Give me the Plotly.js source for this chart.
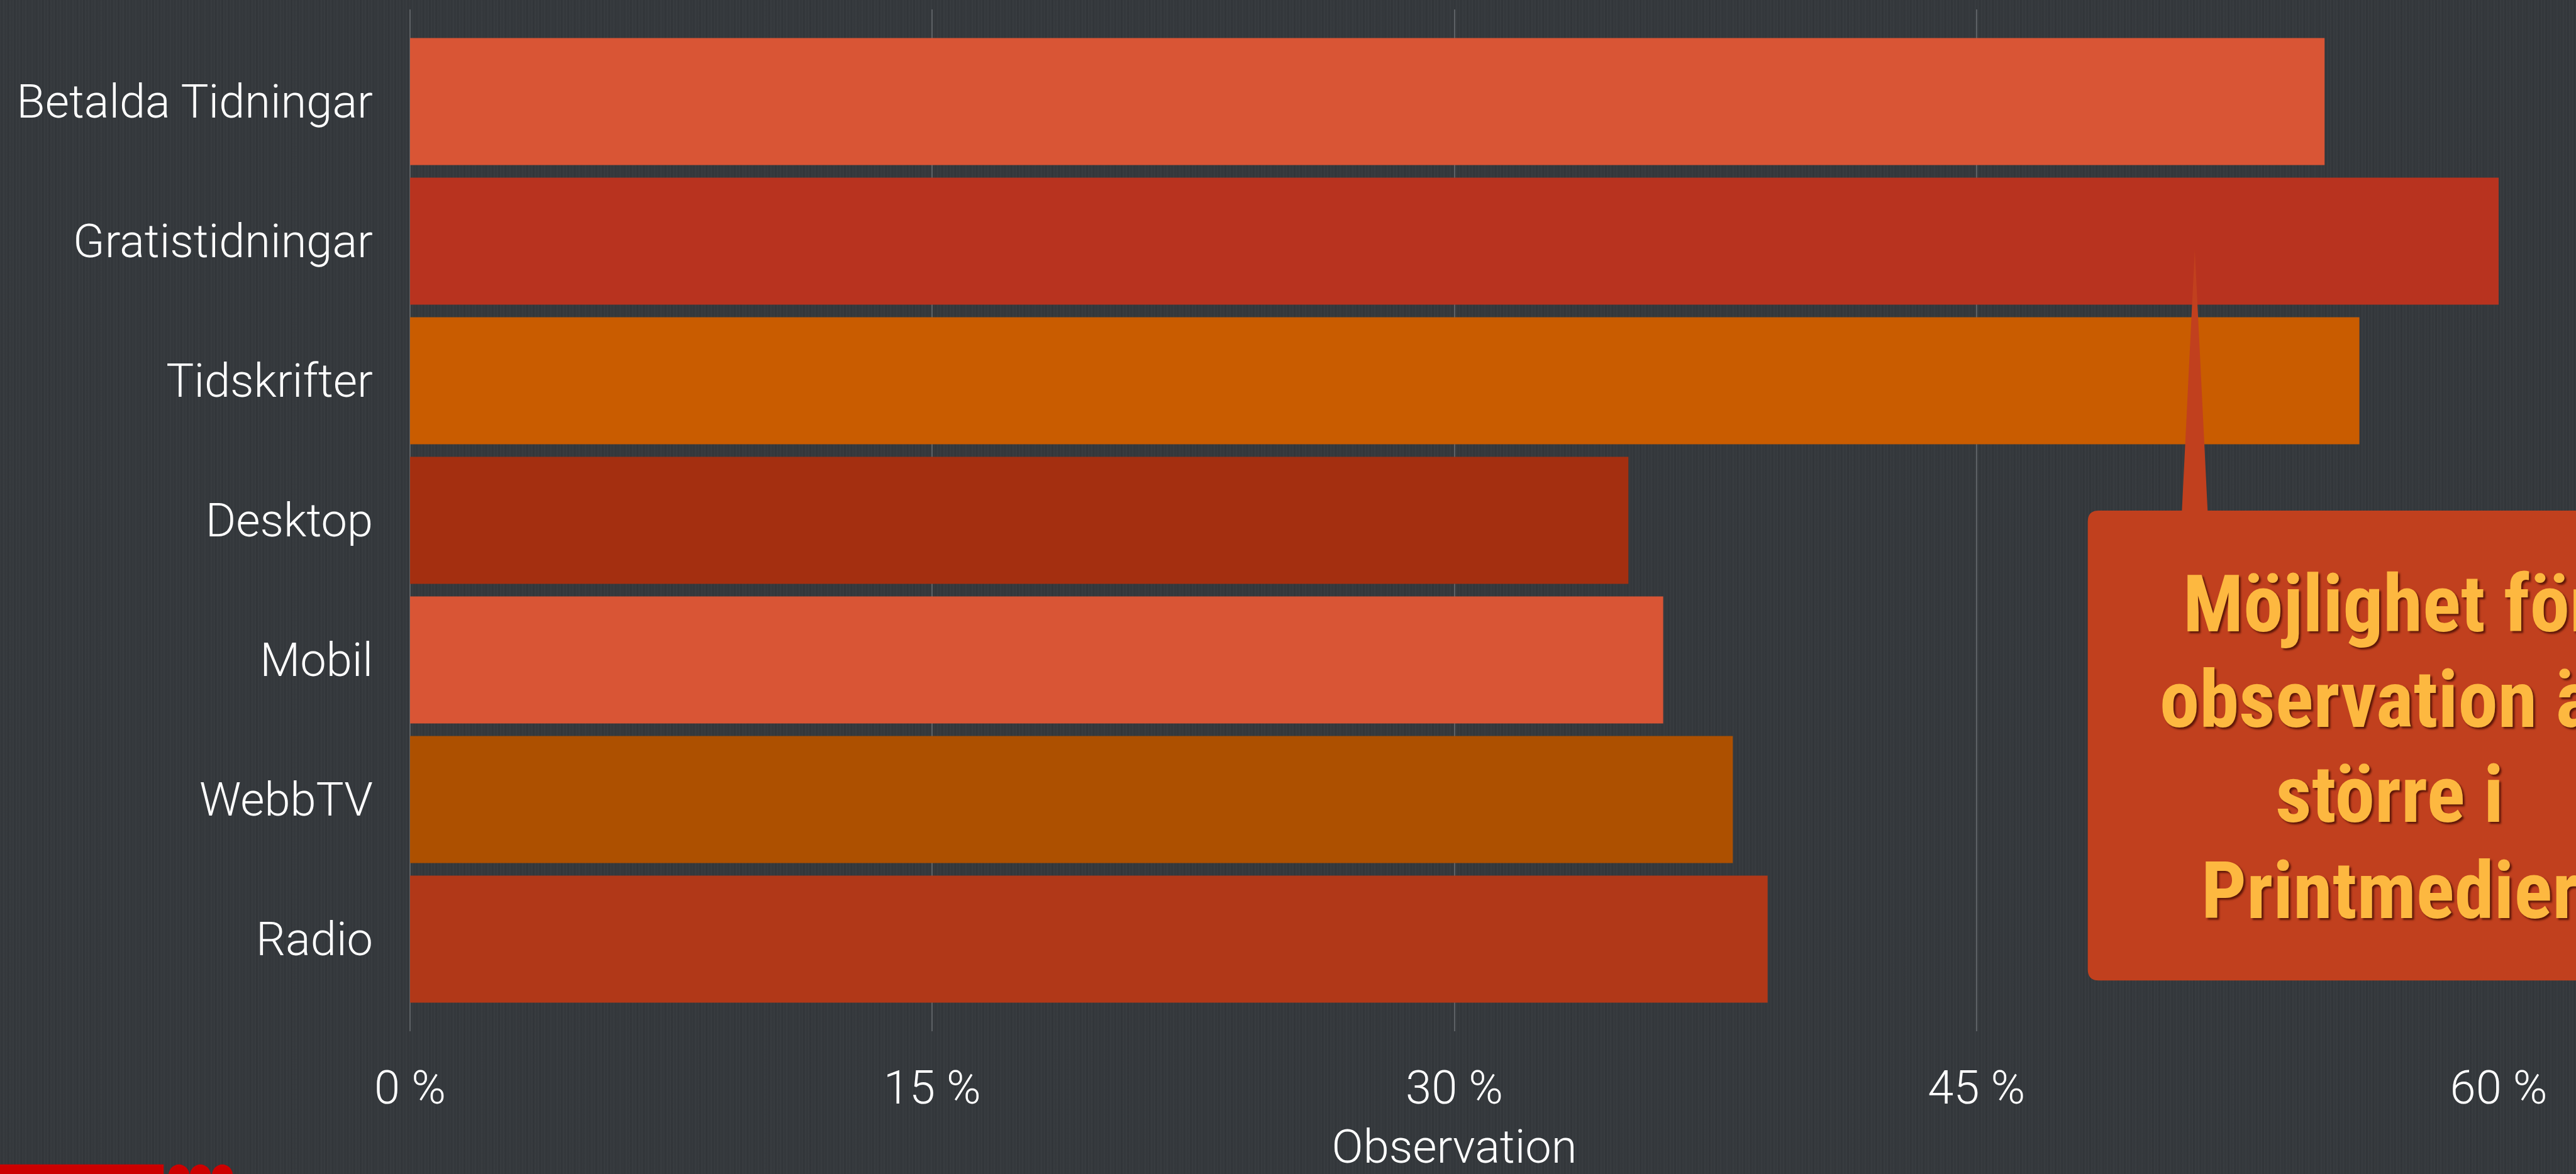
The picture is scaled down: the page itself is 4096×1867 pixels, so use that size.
<!DOCTYPE html>
<html>
<head>
<meta charset="utf-8">
<script src="https://cdn.plot.ly/plotly-3.0.1.min.js"></script>
<style>
  html, body { margin: 0; padding: 0; width: 4096px; height: 1867px; overflow: hidden;
    background-color: #34383c;
    background-image:
      repeating-linear-gradient(90deg, rgba(255,255,255,0.018) 0px, rgba(255,255,255,0.018) 2px, rgba(0,0,0,0) 2px, rgba(0,0,0,0) 5px),
      repeating-linear-gradient(90deg, rgba(0,0,0,0.035) 0px, rgba(0,0,0,0.035) 3px, rgba(0,0,0,0) 3px, rgba(0,0,0,0) 11px);
  }
  #chart { width: 4096px; height: 1867px; }
  .annotation-text { font-stretch: condensed; }
</style>
</head>
<body>
<div id="chart"></div>
<script>
// ---- data ----
const categories = ["Betalda Tidningar", "Gratistidningar", "Tidskrifter", "Desktop", "Mobil", "WebbTV", "Radio"];
const values = [55, 60, 56, 35, 36, 38, 39];
const tickValues = [0, 15, 30, 45, 60];
const tickLabels = ["0 %", "15 %", "30 %", "45 %", "60 %"];
const axisTitle = "Observation";
const calloutLines = ["Möjlighet för", "observation är", "större i", "Printmedier"];

// ---- styles ----
const barColors = ["#d95535", "#b8331f", "#c95c00", "#a42f10", "#d95535", "#ad5000", "#b13818"];
const S = 0.972;
const L = 671 * S, R = 4087 * S, T = 15 * S, B = 1687 * S;
const W = R - L, H = B - T;
function px(x) { return (x * S - L) / W; }
function py(y) { return (B - y * S) / H; }

// callout box path (reference pixel coords converted to paper)
const bx1 = 3415, bx2 = 4430, by1 = 835, by2 = 1604, rr = 18;
const calloutPath =
  "M" + px(bx1 + rr) + "," + py(by1) +
  " L" + px(3569) + "," + py(by1) +
  " L" + px(3590) + "," + py(408) +
  " L" + px(3611) + "," + py(by1) +
  " L" + px(bx2) + "," + py(by1) +
  " L" + px(bx2) + "," + py(by2) +
  " L" + px(bx1 + rr) + "," + py(by2) +
  " Q" + px(bx1) + "," + py(by2) + " " + px(bx1) + "," + py(by2 - rr) +
  " L" + px(bx1) + "," + py(by1 + rr) +
  " Q" + px(bx1) + "," + py(by1) + " " + px(bx1 + rr) + "," + py(by1) + " Z";

const lineCenters = [988, 1144, 1300, 1457];

const shapes = [
  { type: "path", xref: "paper", yref: "paper", path: calloutPath,
    fillcolor: "#c1401e", line: { width: 0 }, layer: "above" },
  // logo fragment bottom-left
  { type: "rect", xref: "paper", yref: "paper", x0: px(-10), x1: px(268), y0: py(1905), y1: py(1940),
    fillcolor: "#cc0000", line: { width: 0 }, layer: "above" },
  { type: "circle", xref: "paper", yref: "paper", x0: px(276), x1: px(310), y0: py(1905), y1: py(1940),
    fillcolor: "#cc0000", line: { width: 0 }, layer: "above" },
  { type: "circle", xref: "paper", yref: "paper", x0: px(311), x1: px(345), y0: py(1905), y1: py(1940),
    fillcolor: "#cc0000", line: { width: 0 }, layer: "above" },
  { type: "circle", xref: "paper", yref: "paper", x0: px(347), x1: px(381), y0: py(1905), y1: py(1940),
    fillcolor: "#cc0000", line: { width: 0 }, layer: "above" }
];

const annotations = calloutLines.map((t, i) => ({
  xref: "paper", yref: "paper", x: px(3909), y: py(lineCenters[i]),
  xanchor: "center", yanchor: "middle", showarrow: false, text: t,
  font: { family: "Roboto Condensed, Noto Sans, sans-serif",
          size: 127, weight: 700, color: "#fdb840", shadow: "3px 3px 3px rgba(60,10,0,0.75)" }
}));

const tickFont = { family: "Roboto, Lato, sans-serif", weight: 300, size: 74, color: "#ffffff" };

const trace = {
  type: "bar", orientation: "h",
  y: categories, x: values,
  marker: { color: barColors, line: { width: 0 } },
  hoverinfo: "none"
};

const layout = {
  width: 4096, height: 1867,
  margin: { l: L, r: 4096 - R, t: T, b: 1867 - B, pad: 0 },
  paper_bgcolor: "rgba(0,0,0,0)",
  plot_bgcolor: "rgba(0,0,0,0)",
  bargap: 0.09,
  showlegend: false,
  xaxis: {
    range: [0, 60], tickvals: tickValues, ticktext: tickLabels,
    showgrid: true, gridcolor: "#5d6165", gridwidth: 2,
    zeroline: true, zerolinecolor: "#5d6165", zerolinewidth: 2,
    showline: false, ticks: "", ticklabelstandoff: 40,
    tickfont: tickFont,
    title: { text: axisTitle, font: tickFont, standoff: 34 }
  },
  yaxis: {
    type: "category", range: [6.66, -0.66],
    showgrid: false, zeroline: false, showline: false, ticks: "",
    ticklabelstandoff: 58, tickfont: tickFont
  },
  shapes: shapes,
  annotations: annotations
};

Plotly.newPlot("chart", [trace], layout, { staticPlot: true, displayModeBar: false });
</script>
</body>
</html>
